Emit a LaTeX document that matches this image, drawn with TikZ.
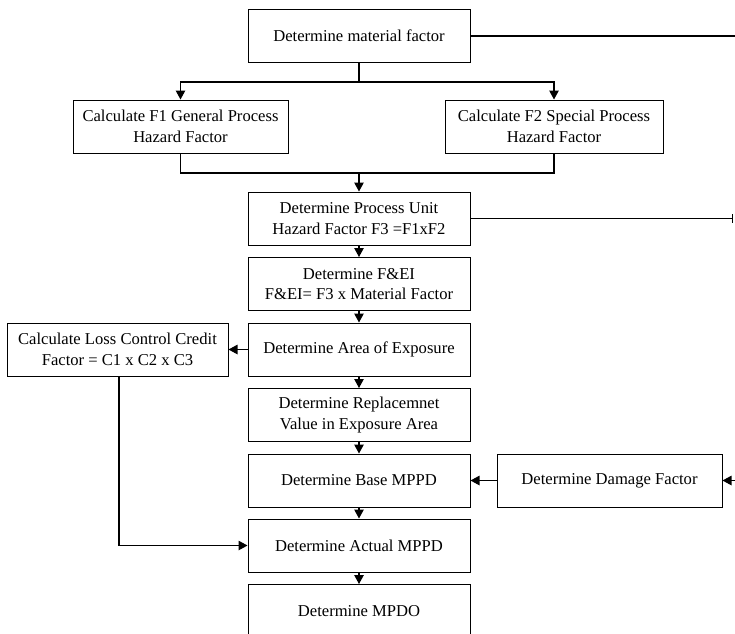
\documentclass[tikz,border=0pt]{standalone}
\usepackage{fontspec}
\setmainfont{Liberation Serif}
\usetikzlibrary{arrows.meta}
\begin{document}
\begin{tikzpicture}[x=1pt,y=-1pt,
  box/.style={draw, line width=1pt, align=center, inner sep=0pt,
    font=\fontsize{16.6}{20.5}\selectfont},
  wide/.style={box, minimum width=222, minimum height=53},
  flow/.style={line width=1.1pt, -{Triangle[length=9pt,width=9.5pt]}},
  plain/.style={line width=1.1pt}]
\useasboundingbox (0,0) rectangle (735,633);

% main column
\node[wide] (mat) at (359,36) {Determine material factor};
\node[box, minimum width=215, minimum height=53] (f1) at (180.5,126.5) {Calculate F1 General Process\\Hazard Factor};
\node[box, minimum width=218, minimum height=53] (f2) at (554,126.5) {Calculate F2 Special Process\\Hazard Factor};
\node[wide] (f3) at (359,218.5) {Determine Process Unit\\Hazard Factor F3 =F1xF2};
\node[wide] (fei) at (359,284) {Determine F\&EI\\F\&EI= F3 x Material Factor};
\node[wide] (area) at (359,349.5) {Determine Area of Exposure};
\node[wide] (repl) at (359,415) {Determine Replacemnet\\Value in Exposure Area};
\node[wide] (base) at (359,480.5) {Determine Base MPPD};
\node[wide] (act) at (359,545.5) {Determine Actual MPPD};
\node[wide] (mpdo) at (359,611) {Determine MPDO};

% side boxes
\node[box, minimum width=221, minimum height=53] (loss) at (117.5,349.5) {Calculate Loss Control Credit\\Factor = C1 x C2 x C3};
\node[box, minimum width=225, minimum height=53] (dmg) at (609.5,480.5) {Determine Damage Factor};

% off-page ends on the right
\coordinate (rtop) at (735,36);
\coordinate (rf3) at (733,218.5);
\coordinate (rdmg) at (735,480.5);

% branch to F1 and F2
\coordinate (split) at (359,82);
\draw[plain] (mat.south) -- (split);
\draw[flow] (split) -| (f1.north);
\draw[flow] (split) -| (f2.north);

% merge into F3
\coordinate (merge) at (359,173);
\draw[plain] (f1.south) |- (merge);
\draw[plain] (f2.south) |- (merge);
\draw[flow] (merge) -- (f3.north);

% vertical chain
\draw[flow] (f3) -- (fei);
\draw[flow] (fei) -- (area);
\draw[flow] (area) -- (repl);
\draw[flow] (repl) -- (base);
\draw[flow] (base) -- (act);
\draw[flow] (act) -- (mpdo);

% side links
\draw[flow] (area) -- (loss);
\draw[flow] (loss.south -| 119,0) |- (act.west);
\draw[flow] (dmg) -- (base);
\draw[flow] (rdmg) -- (dmg.east);

% lines leaving to the right
\draw[plain] (mat.east) -- (rtop);
\draw[line width=1.1pt, -{Bar[width=9pt]}] (f3.east) -- (rf3);
\end{tikzpicture}
\end{document}
